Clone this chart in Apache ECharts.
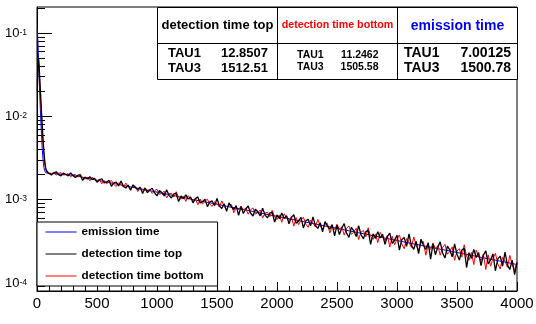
<!DOCTYPE html>
<html><head><meta charset="utf-8">
<script src="https://cdn.jsdelivr.net/npm/echarts@6/dist/echarts.min.js"></script>
<style>html,body{margin:0;padding:0;background:#fff}#c{width:536px;height:324px}</style>
</head><body><div id="c"></div>
<script>
const FONT = "'Liberation Sans', Arial, Helvetica, sans-serif";
// values stored in units of 1e-6
const UNIT = 1e-6;

const earlyTimes = [2.5,7.5,12.5,17.5,22.5,27.5,32.5,37.5,42.5,47.5,52.5,57.5,62.5,67.5,72.5,77.5,85,95];
const blueEarly  = [110000,80000,50000,30000,19000,12500,8500,6000,4400,3400,2800,2450,2250,2150,2100,2080,2070,2060];
const blackEarly = [20000,42000,50000,40000,29000,21000,15500,11300,8300,6200,4800,3800,3100,2700,2400,2250,2150,2090];
const redEarly   = [25000,45000,50000,38000,27000,19000,13500,9800,7200,5400,4200,3400,2850,2500,2300,2180,2110,2080];

const tailStart = 100;
const fineStep = 20;   // bin width of detection histograms (ns)
const coarseStep = 50; // emission histogram tail bin width (ns)

const blackTail = [
2138,1982,2082,2160,1996, 1931,2080,2016,1924,2095, 1934,1838,1963,1972,1701, 1867,1768,1886,1746,1797,
1615,1732,1779,1587,1619, 1702,1443,1589,1622,1460, 1667,1449,1379,1493,1298, 1504,1394,1322,1412,1186,
1372,1211,1302,1371,1203, 1109,1290,1214,1105,1312, 1126,1047,1168,1186,947, 1106,1024,1138,1019,1073,
915,1028,1078,911,947, 1014,823,937,964,847, 1031,840,783,892,722, 915,820,761,848,649,
824,682,771,840,691, 636,767,714,638,787, 657,602,691,705,537, 656,591,691,593,642,
513,612,658,520,554, 613,457,555,580,484, 620,488,451,527,411, 545,482,442,502,367,
495,381,456,516,397, 352,463,422,360,488, 381,338,413,427,290, 388,343,413,347,382,
291,363,396,299,325, 374,248,330,352,275, 387,282,253,316,224, 335,283,252,304,193,
295,218,269,311,229, 199,277,249,206,295, 221,188,248,260,153, 231,196,253,202,231,
161,216,243,169,190, 223,140,194,210,159, 234,165,145,188,126, 175];

const redTail = [
2154,2058,2103,1969,2071, 2114,1968,1996,2054,1878, 1983,2003,1857,2034,1829, 1763,1853,1679,1855,1746,
1676,1745,1547,1701,1549, 1628,1697,1518,1438,1590, 1515,1419,1581,1422,1346, 1443,1451,1251,1376,1299,
1387,1285,1323,1184,1277, 1331,1155,1190,1262,1049, 1170,1196,1072,1242,1064, 1012,1100,952,1117,1026,
970,1041,866,1015,882, 958,1013,883,827,943, 894,812,967,828,765, 860,873,695,816,752,
838,750,790,668,759, 794,670,697,750,600, 688,708,623,744,621, 577,655,534,676,603,
560,622,480,607,500, 566,616,510,464,565, 525,469,578,483,441, 508,518,397,480,437,
507,437,472,375,452, 483,383,408,453,332, 407,426,357,460,359, 333,387,304,404,355,
324,371,269,362,286, 335,377,293,258,341, 310,267,356,280,247, 303,313,215,286,252,
302,256,280,215,267, 290,221,239,271,187, 242,258,204,287,207, 187,232,166,248,209,
186,222,145,217,159, 198,227,169,147,203, 183,154,214,164,142, 180];

const blueTail = [
2060,2050,2020,1990,1950,1890,1830,1770,1710,1660,1600,1550,1500,1450,1400,1360,
1310,1270,1230,1190,1150,1110,1070,1040,1000,970,940,910,880,850,820,795,
770,745,720,695,672,650,630,610,590,570,551,533,515,499,482,467,
451,437,422,408,395,382,369,357,345,334,323,312,302,292,283,274,
265,256,248,240,232,224,217,210,203,196,190,184,178,172,166];

const xTickInterval = 500;
const yMajorTicks = [1e-4, 1e-3, 1e-2, 1e-1];
const yMinorMantissas = [2,3,4,5,6,7,8,9];
const yMinorDecades = [1e-5, 1e-4, 1e-3, 1e-2, 1e-1];

const seriesNames = ['emission time', 'detection time top', 'detection time bottom'];
const tableHeaders = ['detection time top', 'detection time bottom', 'emission time'];
const tau1Values = ['12.8507', '11.2462', '7.00125'];
const tau3Values = ['1512.51', '1505.58', '1500.78'];
const rowLabels = ['TAU1', 'TAU3'];

function binTimes(start, step, n) { const a = []; for (let i = 0; i < n; i++) a.push(start + i * step); return a; }
function pairs(times, vals) { return times.map((t, i) => [t, vals[i] * UNIT]); }

const blueData = pairs(earlyTimes, blueEarly).concat(pairs(binTimes(tailStart, coarseStep, blueTail.length), blueTail));
const blackData = pairs(earlyTimes, blackEarly).concat(pairs(binTimes(tailStart, fineStep, blackTail.length), blackTail));
const redData = pairs(earlyTimes, redEarly).concat(pairs(binTimes(tailStart, fineStep, redTail.length), redTail));

const yMinorTicks = [];
yMinorDecades.forEach(d => yMinorMantissas.forEach(m => yMinorTicks.push(m * d)));

// table layout (styles)
const cellEdges = [157.5, 277.5, 397.5, 517.5];
const tableTop = 7.5, tableMid = 43.5, tableBottom = 79.5;
const headerY = [25, 25, 26];
const headerSize = [13, 10.7, 14];
const headerColor = ['#000', '#ff0000', '#0000ff'];
const rowSize = [13, 10.5, 14];
const rowY = [[53.3, 68.3], [55, 67.3], [53, 68.3]];
const labelX = [168, 297, 404];
const valueX = [268, 378.5, 511];

const gEls = [];
gEls.push({ type: 'rect', z: 100, shape: { x: cellEdges[0], y: tableTop, width: cellEdges[3] - cellEdges[0], height: tableBottom - tableTop },
  style: { fill: '#fff', stroke: '#000', lineWidth: 1 } });
gEls.push({ type: 'line', z: 101, shape: { x1: cellEdges[0], y1: tableMid, x2: cellEdges[3], y2: tableMid }, style: { stroke: '#000', lineWidth: 1 } });
[1, 2].forEach(k => gEls.push({ type: 'line', z: 101, shape: { x1: cellEdges[k], y1: tableTop, x2: cellEdges[k], y2: tableBottom }, style: { stroke: '#000', lineWidth: 1 } }));
for (let c = 0; c < 3; c++) {
  const cx = (cellEdges[c] + cellEdges[c + 1]) / 2;
  gEls.push({ type: 'text', z: 102, x: cx, y: headerY[c], style: { text: tableHeaders[c], fill: headerColor[c],
    font: 'bold ' + headerSize[c] + 'px ' + FONT, textAlign: 'center', textVerticalAlign: 'middle' } });
  const vals = [tau1Values[c], tau3Values[c]];
  for (let r = 0; r < 2; r++) {
    gEls.push({ type: 'text', z: 102, x: labelX[c], y: rowY[c][r], style: { text: rowLabels[r], fill: '#000',
      font: 'bold ' + rowSize[c] + 'px ' + FONT, textAlign: 'left', textVerticalAlign: 'middle' } });
    gEls.push({ type: 'text', z: 102, x: valueX[c], y: rowY[c][r], style: { text: vals[r], fill: '#000',
      font: 'bold ' + rowSize[c] + 'px ' + FONT, textAlign: 'right', textVerticalAlign: 'middle' } });
  }
}

const chart = echarts.init(document.getElementById('c'), null, { renderer: 'canvas' });
chart.setOption({
  animation: false,
  backgroundColor: '#fff',
  textStyle: { fontFamily: FONT },
  grid: { left: 37, right: 19, top: 7, bottom: 33, show: true, borderColor: '#000', borderWidth: 1,
    containLabel: false, outerBoundsMode: 'none' },
  legend: {
    data: seriesNames, orient: 'vertical', left: 37, top: 222,
    padding: [4, 14, 4, 8], itemGap: 10, itemWidth: 31, itemHeight: 14,
    backgroundColor: '#fff', borderColor: '#000', borderWidth: 1, borderRadius: 0,
    itemStyle: { opacity: 0 },
    lineStyle: { width: 1 },
    textStyle: { fontFamily: FONT, fontWeight: 'bold', fontSize: 11.7, color: '#000' },
    z: 50
  },
  xAxis: {
    type: 'value', min: 0, max: 4000, interval: xTickInterval,
    name: 'time (ns)', nameLocation: 'end', nameGap: 0,
    nameTextStyle: { fontFamily: FONT, fontSize: 15, color: '#000', align: 'right', verticalAlign: 'top', padding: [17, 0, 0, 0] },
    axisLine: { lineStyle: { color: '#000', width: 1 } },
    axisTick: { inside: true, length: 9, lineStyle: { color: '#000' } },
    minorTick: { show: true, splitNumber: 5, length: 5, lineStyle: { color: '#000' } },
    axisLabel: { margin: 5, fontSize: 15, color: '#000', fontFamily: FONT, formatter: v => String(v) },
    splitLine: { show: false }
  },
  yAxis: [{
    type: 'log', logBase: 10, min: 8e-5, max: 0.205,
    axisLine: { lineStyle: { color: '#000', width: 1 } },
    axisTick: { inside: true, length: 15, customValues: yMajorTicks, lineStyle: { color: '#000' } },
    axisLabel: {
      customValues: yMajorTicks, margin: 10, color: '#000',
      formatter: v => '{b|10}{s|' + Math.round(Math.log10(v)) + '}',
      rich: {
        b: { fontSize: 13, fontFamily: FONT, color: '#000', lineHeight: 13, padding: [5, 0, 0, 0], verticalAlign: 'bottom' },
        s: { fontSize: 8.5, fontFamily: FONT, color: '#000', lineHeight: 9, padding: [1.5, 0, 0, 0], verticalAlign: 'top' }
      }
    },
    splitLine: { show: false }
  }, {
    type: 'log', logBase: 10, min: 8e-5, max: 0.205, position: 'left',
    axisLine: { show: false },
    axisTick: { inside: true, length: 8, customValues: yMinorTicks, lineStyle: { color: '#000' } },
    axisLabel: { show: false },
    splitLine: { show: false }
  }],
  series: [
    { name: seriesNames[0], type: 'line', data: blueData, symbol: 'none',
      lineStyle: { color: '#0000ff', width: 1 }, itemStyle: { color: '#0000ff' }, z: 2 },
    { name: seriesNames[2], type: 'line', data: redData, symbol: 'none',
      lineStyle: { color: '#ff0000', width: 1 }, itemStyle: { color: '#ff0000' }, z: 3 },
    { name: seriesNames[1], type: 'line', data: blackData, symbol: 'none',
      lineStyle: { color: '#000000', width: 1.3 }, itemStyle: { color: '#000000' }, z: 4 }
  ],
  graphic: { elements: gEls }
});
</script>
</body></html>
